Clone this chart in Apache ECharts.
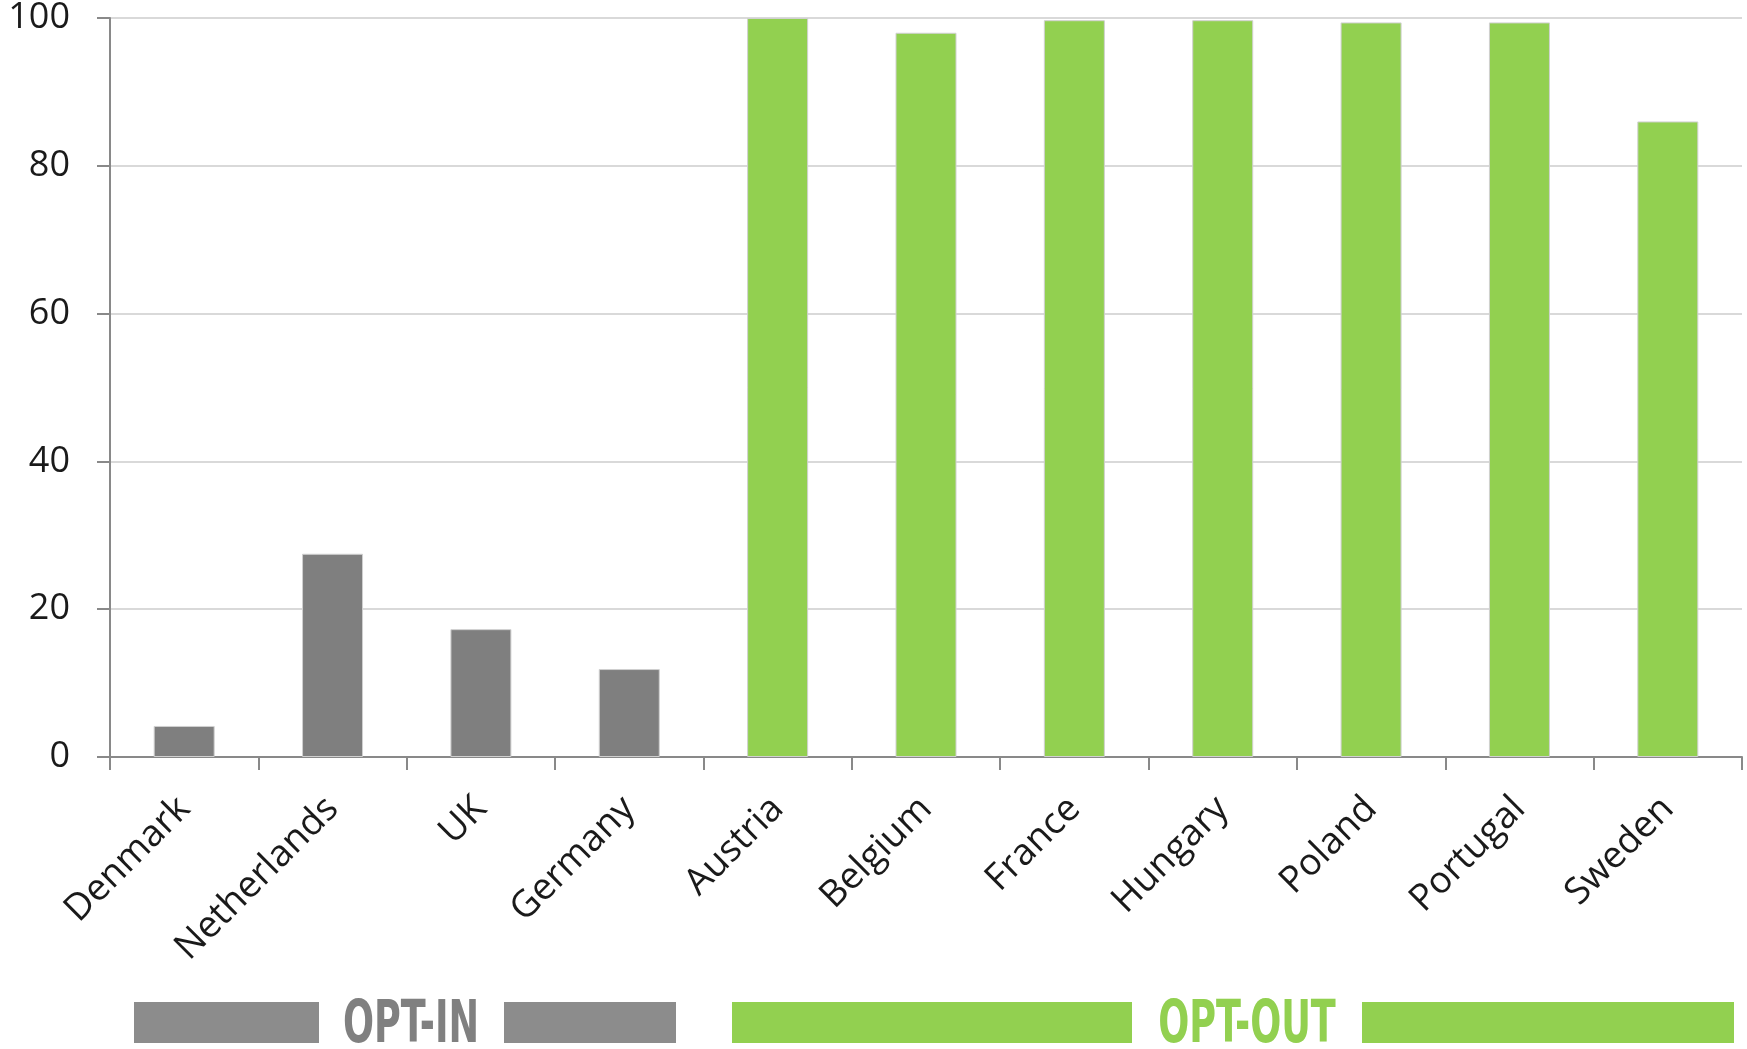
<!DOCTYPE html>
<html>
<head>
<meta charset="utf-8">
<script src="https://cdn.jsdelivr.net/npm/echarts@6/dist/echarts.min.js"></script>
<style>html,body{margin:0;padding:0;background:#fff}#c{width:1747px;height:1049px}</style>
</head>
<body>
<div id="c"></div>
<script>
const categories = ['Denmark','Netherlands','UK','Germany','Austria','Belgium','France','Hungary','Poland','Portugal','Sweden'];
const optInValues  = [4.2, 27.5, 17.3, 11.9, null, null, null, null, null, null, null];
const optOutValues = [null, null, null, null, 100, 98.0, 99.7, 99.7, 99.4, 99.4, 86.0];
const yTicks = { min: 0, max: 100, interval: 20 };
const groupLabels = ['OPT-IN', 'OPT-OUT'];

const chart = echarts.init(document.getElementById('c'));
const grey = '#7f7f7f', green = '#92d050';
chart.setOption({
  animation: false,
  backgroundColor: '#fff',
  grid: { left: 110, right: 5, top: 18, bottom: 292 },
  xAxis: {
    type: 'category', data: categories,
    axisLine: { lineStyle: { color: '#898989', width: 2 } },
    axisTick: { show: true, length: 13, lineStyle: { color: '#898989', width: 2 } },
    axisLabel: { rotate: 45, margin: 46, fontSize: 37, color: '#1a1a1a', fontFamily: 'Open Sans', interval: 0 }
  },
  yAxis: {
    type: 'value', min: yTicks.min, max: yTicks.max, interval: yTicks.interval,
    axisLine: { show: true, lineStyle: { color: '#898989', width: 2 } },
    axisTick: { show: true, length: 13, lineStyle: { color: '#898989', width: 2 } },
    splitLine: { lineStyle: { color: '#d9d9d9', width: 2 } },
    axisLabel: { margin: 40, fontSize: 36, color: '#1a1a1a', fontFamily: 'Open Sans' }
  },
  series: [
    { type: 'bar', data: optInValues, stack: 'a', barWidth: 61,
      itemStyle: { color: grey, borderColor: '#d0d0d0', borderWidth: 1 } },
    { type: 'bar', data: optOutValues, stack: 'a', barWidth: 61,
      itemStyle: { color: green, borderColor: '#d0d0d0', borderWidth: 1 } }
  ],
  graphic: [
    { type: 'rect', shape: { x: 134, y: 1002, width: 185, height: 41 }, style: { fill: '#8c8c8c' } },
    { type: 'rect', shape: { x: 504, y: 1002, width: 172, height: 41 }, style: { fill: '#8c8c8c' } },
    { type: 'text', x: 411, y: 1027, scaleX: 0.70, style: { text: groupLabels[0], fill: '#808080', font: 'bold 58px "DejaVu Sans Condensed"', textAlign: 'center', textVerticalAlign: 'middle' } },
    { type: 'rect', shape: { x: 732, y: 1002, width: 400, height: 41 }, style: { fill: green } },
    { type: 'rect', shape: { x: 1362, y: 1002, width: 372, height: 41 }, style: { fill: green } },
    { type: 'text', x: 1247, y: 1027, scaleX: 0.70, style: { text: groupLabels[1], fill: green, font: 'bold 58px "DejaVu Sans Condensed"', textAlign: 'center', textVerticalAlign: 'middle' } }
  ]
});
</script>
</body>
</html>
